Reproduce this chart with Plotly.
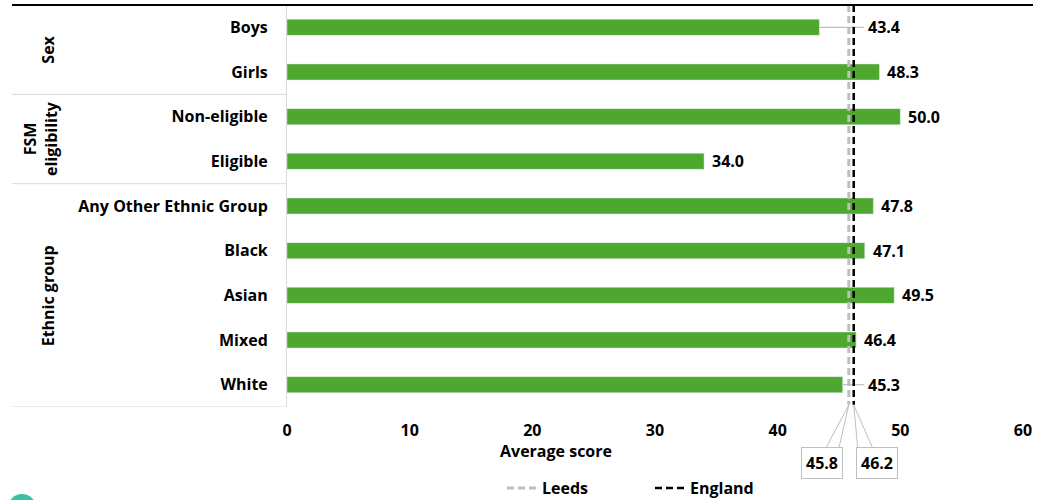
import plotly.graph_objects as go

categories = ["Boys", "Girls", "Non-eligible", "Eligible", "Any Other Ethnic Group",
              "Black", "Asian", "Mixed", "White"]
scores = [43.4, 48.3, 50.0, 34.0, 47.8, 47.1, 49.5, 46.4, 45.3]
groups = ["Sex", "FSM<br>eligibility", "Ethnic group"]
group_spans = [(0, 1), (2, 3), (4, 8)]
leeds = 45.8
england = 46.2
x_ticks = [0, 10, 20, 30, 40, 50, 60]

W, H = 1038, 500
ML, MR, MT, MB = 287, 15, 5, 93
plot_w = W - ML - MR
px_per_unit = plot_w / 60.0
FONT = "Open Sans"
FS = 16
GREEN = "#4EA72E"
GREY = "#BFBFBF"

ypos = list(range(len(categories)))

fig = go.Figure()
fig.add_trace(go.Bar(
    x=scores, y=ypos, orientation="h", marker_color=GREEN, width=0.36,
    showlegend=False, hoverinfo="x+y"))

# reference lines
fig.add_trace(go.Scatter(x=[leeds, leeds], y=[-0.5, 8.45], mode="lines",
                         line=dict(color=GREY, width=3, dash="7px,4px"), name="<b>Leeds</b>"))
fig.add_trace(go.Scatter(x=[england, england], y=[-0.5, 8.45], mode="lines",
                         line=dict(color="black", width=2.5, dash="7px,4px"), name="<b>England</b>"))

annotations = []
shapes = []
# data labels (labels of bars ending near the reference lines are pushed past them)
for i, v in enumerate(scores):
    near = leeds - 4 < v < england
    lx = england if near else v
    shift = 12 if near else 6
    annotations.append(dict(x=lx, y=i, xref="x", yref="y", text="<b>%.1f</b>" % v,
                            showarrow=False, xanchor="left", xshift=shift,
                            font=dict(family=FONT, size=FS, color="black")))
    if near:
        shapes.append(dict(type="line", xref="x", yref="y", x0=v, x1=england + 10 / px_per_unit,
                           y0=i, y1=i, line=dict(color=GREY, width=1.2), layer="below"))

# callout boxes
box_y = -0.14
for val, shift in [(leeds, -27), (england, 23)]:
    annotations.append(dict(x=val, y=box_y, xref="x", yref="paper", text="<b>%.1f</b>" % val,
                            showarrow=False, xshift=shift, yanchor="middle",
                            bordercolor=GREY, borderwidth=1, borderpad=4, bgcolor="white",
                            font=dict(family=FONT, size=FS, color="black")))
    cx = val + shift / px_per_unit
    top = box_y + 15 / (H - MT - MB)
    x_a = cx + (4 if shift < 0 else -19) / px_per_unit
    x_b = cx + (17 if shift < 0 else -4) / px_per_unit
    shapes.append(dict(type="path", xref="x", yref="paper",
                       path="M %f %f L %f %f L %f %f" % (x_a, top, val, 0.005, x_b, top),
                       line=dict(color=GREY, width=1)))

# group labels and separators
dom_h = H - MT - MB
x_left = (12 - ML) / plot_w
for g, (a, b) in zip(groups, group_spans):
    gx = 40 if "<br>" in g else 48
    annotations.append(dict(x=(gx - ML) / plot_w, xref="paper", y=(a + b) / 2, yref="y",
                            text="<b>%s</b>" % g, textangle=-90, showarrow=False,
                            xanchor="center", yanchor="middle",
                            font=dict(family=FONT, size=FS, color="black")))
    shapes.append(dict(type="line", xref="paper", yref="y", x0=x_left, x1=0,
                       y0=b + 0.5, y1=b + 0.5, line=dict(color="#D9D9D9", width=1)))

# top border line
shapes.append(dict(type="line", xref="paper", yref="paper", x0=x_left, x1=(1033 - ML) / plot_w,
                   y0=1, y1=1, line=dict(color="black", width=2)))

# axis title
annotations.append(dict(x=(556 - ML) / plot_w, xref="paper", y=-0.11, yref="paper",
                        text="<b>Average score</b>", showarrow=False, yanchor="middle",
                        xanchor="center",
                        font=dict(family=FONT, size=FS, color="black")))

# teal logo fragment
shapes.append(dict(type="circle", xref="paper", yref="paper",
                   x0=(8 - ML) / plot_w, x1=(36 - ML) / plot_w,
                   y0=-(508 - 407 + 14) / dom_h, y1=-(494 - 407) / dom_h,
                   fillcolor="#3DBFA5", line=dict(width=0)))

fig.update_layout(
    width=W, height=H, margin=dict(l=ML, r=MR, t=MT, b=MB, autoexpand=False),
    plot_bgcolor="white", paper_bgcolor="white",
    font=dict(family=FONT, size=FS, color="black"),
    xaxis=dict(range=[0, 60], tickvals=x_ticks, ticktext=["<b>%d</b>" % t for t in x_ticks],
               showgrid=False, zeroline=False, showline=False, ticks="", automargin=False,
               ticklabelstandoff=12, tickfont=dict(family=FONT, size=FS, color="black")),
    yaxis=dict(range=[8.5, -0.5], tickvals=ypos, ticktext=["<b>%s</b>" % c for c in categories],
               showgrid=False, zeroline=False, showline=True, linecolor="#D9D9D9", linewidth=1,
               ticks="", automargin=False, ticklabelstandoff=15,
               tickfont=dict(family=FONT, size=FS, color="black")),
    legend=dict(orientation="h", x=502 / W, xref="container", xanchor="left",
                y=-(488 - 407) / dom_h, yref="paper", yanchor="middle",
                font=dict(family=FONT, size=FS, color="black"),
                entrywidth=103, entrywidthmode="pixels", tracegroupgap=0),
    annotations=annotations, shapes=shapes,
)

fig.write_html("out.html", config={"displayModeBar": False},
               post_script="document.body.style.margin='0';document.body.style.overflow='hidden';")
